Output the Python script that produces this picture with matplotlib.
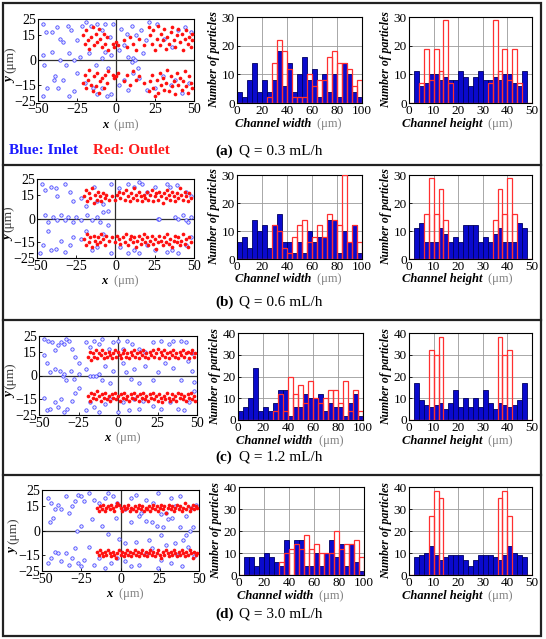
import numpy as np
import matplotlib
matplotlib.use("Agg")
import matplotlib.pyplot as plt
from matplotlib.lines import Line2D

plt.rcParams['font.family'] = ['Liberation Serif', 'DejaVu Serif']
plt.rcParams['mathtext.fontset'] = 'stix'

W, H = 546, 639

# ---------------- data ----------------
flow_labels = ["0.3", "0.6", "1.2", "3.0"]
panel_tags = ["(a)", "(b)", "(c)", "(d)"]

width_bins = np.arange(0, 100, 4)      # 25 bins, 4 um wide
height_bins = np.arange(0, 50, 2)      # 25 bins, 2 um wide

a_width_blue = [4, 2, 8, 14, 4, 8, 4, 8, 18, 6, 14, 4, 10, 16, 8, 12, 2, 10, 4, 10, 2, 14, 10, 4, 2]
a_width_red = [0, 0, 0, 0, 0, 0, 2, 14, 22, 18, 12, 2, 2, 2, 10, 6, 8, 8, 16, 18, 14, 14, 12, 6, 8]
a_height_blue = [0, 11, 6, 7, 10, 10, 8, 9, 8, 8, 11, 9, 6, 9, 11, 8, 8, 9, 8, 10, 10, 7, 6, 11, 0]
a_height_red = [0, 0, 7, 19, 8, 19, 11, 29, 7, 0, 0, 0, 0, 0, 0, 0, 7, 29, 11, 19, 8, 19, 7, 0, 0]

b_width_blue = [6, 8, 4, 14, 10, 12, 4, 12, 16, 6, 6, 2, 6, 2, 10, 6, 8, 8, 14, 14, 2, 10, 6, 12, 2]
b_width_red = [0, 0, 0, 0, 0, 0, 0, 12, 10, 4, 2, 8, 12, 14, 6, 8, 12, 8, 16, 14, 12, 30, 6, 12, 6]
b_height_blue = [0, 11, 13, 6, 6, 6, 11, 9, 6, 8, 6, 12, 12, 12, 6, 8, 6, 9, 11, 6, 6, 6, 13, 11, 0]
b_height_red = [0, 0, 0, 16, 29, 16, 25, 14, 0, 0, 0, 0, 0, 0, 0, 0, 0, 14, 25, 16, 29, 16, 0, 0, 0]

c_width_blue = [4, 6, 10, 24, 4, 6, 4, 8, 14, 14, 2, 6, 6, 12, 10, 10, 12, 4, 8, 6, 6, 2, 8, 12, 2]
c_width_red = [0, 0, 0, 0, 0, 0, 0, 4, 12, 4, 20, 12, 16, 8, 18, 10, 8, 10, 14, 14, 8, 18, 4, 14, 4]
c_height_blue = [0, 17, 9, 7, 6, 7, 8, 5, 8, 14, 6, 10, 6, 10, 6, 14, 8, 5, 8, 7, 6, 7, 9, 17, 0]
c_height_red = [0, 0, 0, 0, 32, 30, 38, 0, 0, 0, 0, 0, 0, 0, 0, 0, 0, 0, 38, 30, 32, 0, 0, 0, 0]

d_width_blue = [0, 8, 8, 4, 8, 10, 8, 6, 4, 16, 0, 16, 16, 4, 4, 10, 4, 10, 16, 8, 14, 4, 14, 6, 2]
d_width_red = [0, 0, 0, 0, 0, 0, 0, 0, 6, 10, 12, 14, 12, 18, 12, 14, 10, 10, 10, 20, 12, 14, 14, 16, 8]
d_height_blue = [0, 8, 9, 10, 13, 9, 7, 8, 9, 9, 9, 7, 4, 7, 9, 9, 9, 8, 7, 9, 13, 10, 9, 8, 0]
d_height_red = [0, 0, 0, 0, 27, 38, 35, 0, 0, 0, 0, 0, 0, 0, 0, 0, 0, 0, 35, 38, 27, 0, 0, 0, 0]

hist_ymax = [30, 30, 40, 40]

# particle positions (x, y) in um
a_blue = [(-47, 22), (-45, 17), (-41, 17), (-38, 20), (-36, 13), (-34, 11), (-31, 21), (-29, 18), (-25, 12),
          (-22, 21), (-19, 23), (-16, 21), (-12, 22), (-9, 18), (-7, 22), (-4, 14), (-2, 22), (3, 19), (7, 16),
          (10, 21), (13, 15), (16, 18), (19, 12), (21, 23), (26, 22), (31, 13), (36, 8), (40, 18), (44, 20),
          (48, 17), (-47, 3), (-46, -3), (-41, 5), (-36, 0), (-32, -3), (-30, 4), (-27, 0), (-23, 2), (-17, 4),
          (-13, -3), (-9, 1), (-7, 5), (-5, -5), (-3, 3), (2, 6), (5, 9), (8, 2), (10, -1), (11, 1), (12, 0),
          (14, -5), (17, 4), (-47, -22), (-44, -17), (-40, -12), (-39, -10), (-37, -17), (-34, -12), (-30, -22),
          (-27, -19), (-25, -8), (-20, -14), (-15, -17), (-12, -21), (-9, -17), (-6, -22), (-3, -21), (2, -15),
          (5, -12), (8, -18), (11, -8), (15, -11), (20, -18), (25, -17), (30, -10), (35, -15), (38, -12),
          (42, -20), (47, -14)]
a_red = [(-21, 15), (-20, 10), (-19, 18), (-18, 12), (-17, 7), (-16, 14), (-15, 20), (-14, 9), (-13, 16),
         (-12, 11), (-11, 19), (-10, 13), (-9, 8), (-8, 16), (-7, 10), (-6, 14), (-5, 6), (-2, 10), (-1, 8),
         (0, 11), (1, 9), (5, 12), (7, 8), (9, 14), (11, 10), (13, 6), (15, 13), (18, 9), (21, 20), (22, 15),
         (23, 10), (24, 18), (25, 6), (26, 13), (27, 21), (28, 9), (29, 16), (30, 12), (31, 19), (32, 7),
         (33, 14), (34, 10), (35, 17), (36, 20), (37, 12), (38, 8), (39, 15), (40, 19), (41, 11), (42, 16),
         (43, 6), (44, 13), (45, 18), (46, 10), (47, 14), (48, 8), (49, 16), (49, 12),
         (-21, -14), (-20, -9), (-19, -17), (-18, -12), (-17, -6), (-16, -15), (-15, -19), (-14, -10),
         (-13, -16), (-12, -8), (-11, -20), (-10, -13), (-9, -11), (-8, -17), (-7, -9), (-6, -14), (-5, -7),
         (-2, -9), (-1, -11), (0, -10), (1, -8), (5, -13), (7, -9), (9, -15), (11, -7), (13, -12), (15, -10),
         (18, -14), (21, -19), (22, -13), (23, -9), (24, -17), (25, -22), (26, -12), (27, -20), (28, -8),
         (29, -15), (30, -11), (31, -18), (32, -14), (33, -6), (34, -19), (35, -10), (36, -16), (37, -13),
         (38, -21), (39, -8), (40, -15), (41, -11), (42, -18), (43, -13), (44, -7), (45, -16), (46, -20),
         (47, -10), (48, -14), (49, -17)]

b_blue = [(-47, 22), (-45, 18), (-41, 20), (-38, 19), (-37, 14), (-32, 22), (-29, 17), (-27, 11), (-22, 13),
          (-19, 8), (-14, 20), (-12, 11), (-8, 9), (-5, 5), (-3, 22), (2, 19), (8, 22), (12, 20), (15, 23),
          (17, 22), (20, 17), (25, 20), (33, 22), (35, 20), (39, 21), (45, 17), (48, 14),
          (-45, 2), (-43, -2), (-40, 1), (-37, -1), (-35, 2), (-32, -1), (-30, 1), (-27, -2), (-25, 1),
          (-22, -1), (-18, 2), (-15, -1), (-12, 1), (-10, -2), (-8, 4), (-5, -4), (27, 0), (28, 0), (38, 1),
          (40, 0), (43, 2), (45, -1), (46, -2), (48, 1),
          (-48, -22), (-46, -17), (-43, -8), (-41, -20), (-38, -19), (-35, -14), (-32, -21), (-29, -17),
          (-27, -12), (-22, -13), (-19, -8), (-15, -20), (-12, -18), (-8, -10), (-3, -22), (3, -18), (8, -22),
          (12, -20), (15, -22), (20, -17), (25, -20), (33, -21), (36, -20), (40, -22), (45, -17), (48, -12)]
b_red = [(-20, 14), (-19, 18), (-18, 11), (-17, 16), (-16, 13), (-15, 19), (-14, 10), (-13, 15), (-12, 12),
         (-11, 17), (-10, 14), (-9, 11), (-8, 16), (-7, 13), (-6, 15), (-4, 12), (-2, 14), (0, 12), (1, 15),
         (2, 17), (3, 13), (5, 16), (6, 12), (7, 18), (8, 14), (9, 11), (10, 16), (11, 13), (12, 19), (13, 15),
         (14, 12), (15, 17), (16, 14), (17, 11), (18, 15), (19, 13), (20, 17), (21, 12), (22, 15), (23, 18),
         (24, 11), (25, 14), (26, 16), (27, 12), (28, 17), (29, 14), (30, 10), (31, 16), (32, 13), (33, 18),
         (34, 15), (35, 12), (36, 17), (37, 14), (38, 11), (39, 16), (40, 13), (41, 19), (42, 15), (43, 12),
         (44, 17), (45, 14), (46, 11), (47, 16), (48, 13),
         (-20, -13), (-19, -17), (-18, -10), (-17, -15), (-16, -12), (-15, -18), (-14, -11), (-13, -14),
         (-12, -16), (-11, -12), (-10, -15), (-9, -10), (-8, -13), (-7, -17), (-6, -11), (-4, -14), (-2, -12),
         (0, -15), (1, -11), (2, -13), (3, -16), (5, -12), (6, -15), (7, -10), (8, -17), (9, -13), (10, -11),
         (11, -15), (12, -12), (13, -18), (14, -14), (15, -11), (16, -16), (17, -13), (18, -10), (19, -15),
         (20, -12), (21, -17), (22, -14), (23, -11), (24, -16), (25, -13), (26, -19), (27, -15), (28, -11),
         (29, -14), (30, -17), (31, -12), (32, -15), (33, -10), (34, -16), (35, -13), (36, -18), (37, -14),
         (38, -11), (39, -15), (40, -12), (41, -17), (42, -14), (43, -10), (44, -16), (45, -13), (46, -18),
         (47, -12), (48, -15)]

c_blue = [(-47, 23), (-44, 22), (-42, 21), (-40, 16), (-38, 19), (-36, 21), (-34, 20), (-33, 23), (-31, 22),
          (-29, 17), (-27, 12), (-25, 8), (-20, 21), (-18, 18), (-15, 22), (-12, 20), (-10, 23), (-6, 17),
          (-3, 21), (0, 22), (3, 17), (6, 22), (9, 20), (13, 17), (17, 15), (22, 21), (27, 22), (32, 20),
          (35, 22), (40, 22), (43, 21), (47, 14),
          (-47, 13), (-45, 8), (-43, 2), (-40, 4), (-37, 3), (-35, 0), (-34, 1), (-33, -3), (-30, 3), (-28, -2),
          (-25, 1), (-20, 4), (-18, 0), (-16, 0), (-14, 0), (-12, 1), (-10, -3), (-8, 6), (-5, -5), (-3, 3),
          (3, 8), (5, 2), (8, -2), (10, 4), (13, -5), (17, 6), (22, -3), (25, 2), (30, 8), (35, 5), (40, -3),
          (44, 9), (47, 3), (48, -4),
          (-47, -14), (-45, -22), (-43, -21), (-40, -17), (-38, -20), (-36, -15), (-34, -23), (-32, -21),
          (-29, -16), (-27, -11), (-25, -8), (-20, -22), (-18, -17), (-15, -20), (-12, -23), (-8, -18),
          (-5, -15), (0, -23), (3, -17), (7, -22), (10, -15), (13, -21), (16, -16), (22, -19), (27, -21),
          (33, -17), (38, -21), (42, -22), (45, -17), (48, -10)]
c_red = [(-19, 12), (-18, 15), (-17, 10), (-16, 14), (-15, 12), (-14, 16), (-13, 11), (-12, 14), (-11, 13),
         (-10, 16), (-9, 11), (-8, 14), (-7, 12), (-6, 15), (-5, 13), (-4, 11), (-3, 14), (-2, 16), (-1, 12),
         (0, 15), (1, 13), (2, 11), (3, 14), (4, 16), (5, 12), (6, 14), (7, 11), (8, 15), (9, 13), (10, 16),
         (11, 12), (12, 14), (13, 11), (14, 15), (15, 13), (16, 16), (17, 12), (18, 14), (19, 11), (20, 15),
         (21, 13), (22, 16), (23, 12), (24, 14), (25, 17), (26, 11), (27, 15), (28, 13), (29, 16), (30, 12),
         (31, 14), (32, 11), (33, 15), (34, 13), (35, 16), (36, 12), (37, 14), (38, 11), (39, 15), (40, 13),
         (41, 16), (42, 12), (43, 14), (44, 15), (45, 11), (46, 14), (47, 16), (48, 12), (49, 14),
         (-19, -13), (-18, -16), (-17, -11), (-16, -14), (-15, -12), (-14, -15), (-13, -10), (-12, -13),
         (-11, -16), (-10, -12), (-9, -14), (-8, -11), (-7, -15), (-6, -13), (-5, -16), (-4, -12), (-3, -14),
         (-2, -11), (-1, -15), (0, -13), (1, -16), (2, -12), (3, -14), (4, -11), (5, -15), (6, -13), (7, -16),
         (8, -12), (9, -14), (10, -11), (11, -15), (12, -13), (13, -16), (14, -12), (15, -14), (16, -11),
         (17, -15), (18, -13), (19, -16), (20, -12), (21, -14), (22, -11), (23, -15), (24, -13), (25, -16),
         (26, -12), (27, -14), (28, -17), (29, -13), (30, -15), (31, -11), (32, -14), (33, -16), (34, -12),
         (35, -15), (36, -13), (37, -16), (38, -11), (39, -14), (40, -12), (41, -15), (42, -13), (43, -16),
         (44, -12), (45, -14), (46, -11), (47, -15), (48, -13), (49, -16)]

d_blue = [(-46, 20), (-44, 17), (-42, 13), (-40, 16), (-38, 13), (-35, 21), (-33, 11), (-31, 15), (-29, 18),
          (-27, 22), (-25, 21), (-23, 18), (-20, 23), (-17, 19), (-14, 17), (-10, 20), (-8, 23), (-5, 21),
          (-2, 17), (3, 13), (7, 20), (10, 22), (13, 11), (16, 19), (21, 17), (24, 23), (26, 10), (29, 11),
          (32, 20), (35, 15), (38, 21), (42, 9), (45, 14), (48, 16),
          (-45, 5), (-43, 8), (-28, 0), (-25, 3), (-18, 7), (-12, 3), (-8, -2), (-3, 8), (-1, -5), (3, -8),
          (7, 5), (12, 9), (16, 6), (20, 5), (23, 3), (27, 2), (30, 7), (33, 8), (38, 2), (42, -3), (44, 0),
          (46, 2), (40, -6), (35, -8), (26, -3), (18, -6), (10, -7),
          (-46, -20), (-44, -17), (-42, -13), (-40, -14), (-38, -19), (-35, -14), (-33, -21), (-31, -17),
          (-29, -11), (-27, -20), (-25, -22), (-23, -18), (-20, -10), (-17, -21), (-14, -17), (-10, -23),
          (-6, -20), (-2, -17), (3, -19), (7, -22), (12, -21), (16, -14), (20, -11), (24, -23), (26, -18),
          (29, -9), (32, -20), (36, -15), (39, -22), (43, -10), (47, -16)]
d_red = [(-15, 14), (-14, 12), (-13, 15), (-12, 13), (-11, 16), (-10, 12), (-9, 14), (-8, 15), (-7, 13),
         (-6, 16), (-5, 14), (-4, 12), (-3, 15), (-2, 17), (-1, 16), (0, 14), (1, 12), (2, 15), (3, 13),
         (4, 14), (5, 16), (6, 12), (7, 14), (8, 13), (9, 15), (10, 12), (11, 14), (12, 16), (13, 13), (14, 15),
         (15, 12), (16, 14), (17, 13), (18, 15), (19, 12), (20, 14), (21, 16), (22, 13), (23, 15), (24, 12),
         (25, 14), (26, 16), (27, 13), (28, 15), (29, 11), (30, 14), (31, 16), (32, 13), (33, 15), (34, 12),
         (35, 14), (36, 16), (37, 13), (38, 15), (39, 12), (40, 14), (41, 17), (42, 13), (43, 15), (44, 12),
         (45, 14), (46, 16), (47, 13), (48, 15), (49, 14),
         (-15, -13), (-14, -15), (-13, -12), (-12, -14), (-11, -16), (-10, -13), (-9, -15), (-8, -12),
         (-7, -14), (-6, -16), (-5, -13), (-4, -15), (-3, -17), (-2, -14), (-1, -12), (0, -15), (1, -13),
         (2, -16), (3, -14), (4, -12), (5, -15), (6, -13), (7, -16), (8, -14), (9, -12), (10, -15), (11, -13),
         (12, -16), (13, -14), (14, -12), (15, -15), (16, -13), (17, -16), (18, -14), (19, -12), (20, -15),
         (21, -13), (22, -16), (23, -14), (24, -12), (25, -15), (26, -17), (27, -13), (28, -15), (29, -12),
         (30, -14), (31, -16), (32, -13), (33, -15), (34, -12), (35, -14), (36, -16), (37, -13), (38, -15),
         (39, -12), (40, -14), (41, -16), (42, -13), (43, -15), (44, -12), (45, -14), (46, -17), (47, -13),
         (48, -15), (49, -14)]

# ---------------- layout (pixel boxes: left, top, right, bottom) ----------------
scatter_boxes = [(38, 19, 194, 101), (37, 179, 194, 258), (39, 336, 197, 415), (42, 490, 199, 571)]
width_boxes = [(237, 17, 362, 103), (237, 175, 362, 259), (238, 333, 363, 420), (239, 487, 364, 575)]
height_boxes = [(409, 17, 532, 103), (409, 175, 532, 259), (409, 333, 532, 420), (409, 487, 532, 575)]
label_rows = [151, 302, 457, 614]
separators = [165, 320, 475]

BLUE_BAR = '#0a0acd'
RED_EDGE = '#ff3030'


def box(l, t, r, b):
    return [l / W, 1 - b / H, (r - l) / W, (b - t) / H]


def style_ticks(ax, size):
    ax.tick_params(direction='in', length=2, width=0.6, labelsize=size, pad=1.5)
    for sp in ax.spines.values():
        sp.set_linewidth(0.8)


def two_part_xlabel(ax, bold, rest, ypos, xc=0.5):
    ax.text(xc, ypos, bold + ' ', transform=ax.transAxes, ha='right', va='center',
            fontsize=9, fontweight='bold', fontstyle='italic')
    ax.text(xc, ypos, ' ' + rest, transform=ax.transAxes, ha='left', va='center',
            fontsize=9, color='#808080')


def draw_scatter(rect, blue, red):
    ax = fig.add_axes(box(*rect))
    ax.axhline(0, color='#303030', lw=0.9, zorder=1)
    ax.axvline(0, color='#303030', lw=0.9, zorder=1)
    bx, by = zip(*blue)
    rx, ry = zip(*red)
    ax.scatter(bx, by, s=6, facecolors='#e4e4ff', edgecolors='#4040ff', linewidths=0.55, zorder=2)
    ax.scatter(rx, ry, s=7, c='#ff1010', linewidths=0, zorder=3)
    ax.set_xlim(-50, 50)
    ax.set_ylim(-25, 25)
    ax.set_xticks([-50, -25, 0, 25, 50])
    ax.set_yticks([-25, -15, 0, 15, 25])
    style_ticks(ax, 10)
    two_part_xlabel(ax, 'x', '(\u03bcm)', -0.29, xc=0.47)
    ax.text(-0.18, 0.25, 'y', transform=ax.transAxes, rotation=90, ha='center', va='center',
            fontsize=9.5, fontweight='bold', fontstyle='italic')
    ax.text(-0.18, 0.5, '(\u03bcm)', transform=ax.transAxes, rotation=90, ha='center', va='center',
            fontsize=9.5, color='#404040')
    return ax


def draw_hist(rect, bins, step, blue, red, xmax, ymax, xticks, xname):
    ax = fig.add_axes(box(*rect))
    ax.bar(bins, blue, width=step, align='edge', color=BLUE_BAR, edgecolor='#000060',
           linewidth=0.6, zorder=2)
    ax.bar(bins, red, width=step, align='edge', fill=False, edgecolor=RED_EDGE,
           linewidth=0.9, zorder=3)
    ax.set_xlim(0, xmax)
    ax.set_ylim(0, ymax)
    ax.set_xticks(xticks)
    ax.set_yticks(np.arange(0, ymax + 1, 10))
    ax.grid(True, color='#9a9a9a', lw=0.6)
    ax.set_axisbelow(True)
    style_ticks(ax, 9.5)
    ax.set_ylabel('Number of particles', fontsize=8.5, fontweight='bold', fontstyle='italic',
                  labelpad=1)
    two_part_xlabel(ax, xname, '(\u03bcm)', -0.24, xc=0.62)
    return ax


fig = plt.figure(figsize=(W / 100, H / 100), dpi=100)

datasets = [
    (a_blue, a_red, a_width_blue, a_width_red, a_height_blue, a_height_red),
    (b_blue, b_red, b_width_blue, b_width_red, b_height_blue, b_height_red),
    (c_blue, c_red, c_width_blue, c_width_red, c_height_blue, c_height_red),
    (d_blue, d_red, d_width_blue, d_width_red, d_height_blue, d_height_red),
]

for i, (pb, pr, wb, wr, hb, hr) in enumerate(datasets):
    draw_scatter(scatter_boxes[i], pb, pr)
    draw_hist(width_boxes[i], width_bins, 4, wb, wr, 100, hist_ymax[i],
              [0, 20, 40, 60, 80, 100], 'Channel width')
    draw_hist(height_boxes[i], height_bins, 2, hb, hr, 50, hist_ymax[i],
              [0, 10, 20, 30, 40, 50], 'Channel height')
    yl = 1 - label_rows[i] / H
    fig.text(215 / W, yl, panel_tags[i], fontsize=11, fontweight='bold', ha='left', va='center')
    fig.text(239 / W, yl, 'Q = %s mL/h' % flow_labels[i], fontsize=11, ha='left', va='center')

fig.text(9 / W, 1 - 151 / H, 'Blue: Inlet', color='#1a1aff', fontsize=11, fontweight='bold',
         ha='left', va='center')
fig.text(93 / W, 1 - 151 / H, 'Red: Outlet', color='#ff1a1a', fontsize=11, fontweight='bold',
         ha='left', va='center')

# frame and row separators
for y in separators:
    fig.add_artist(Line2D([3 / W, 541 / W], [1 - y / H, 1 - y / H], color='#222222', lw=1.6))
fig.add_artist(plt.Rectangle((3 / W, 3 / H), 538 / W, 633 / H, fill=False,
                             edgecolor='#222222', lw=1.6, transform=fig.transFigure))

fig.savefig('out.png', dpi=100)
